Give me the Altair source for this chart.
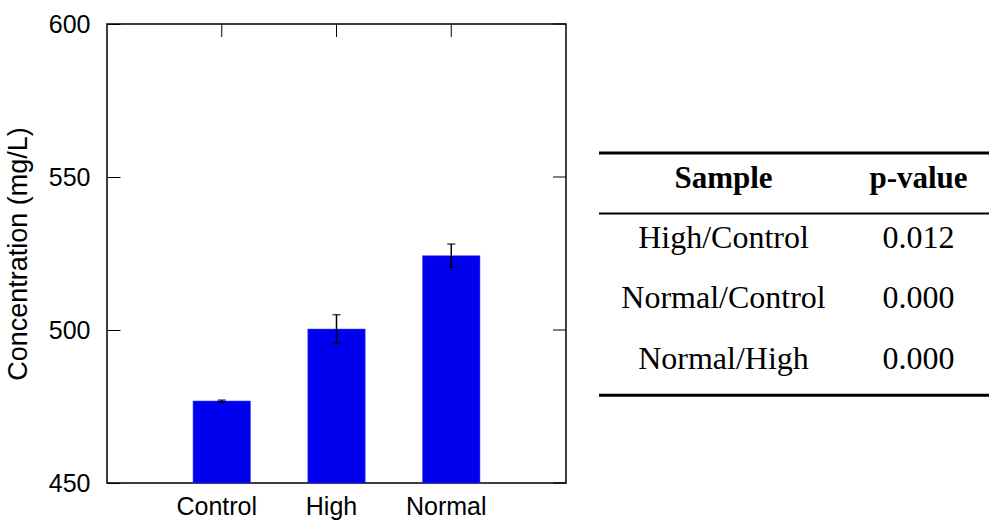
import altair as alt
import pandas as pd

categories = ["Control", "High", "Normal"]
means = [476.8, 500.3, 524.3]
errors = [0.3, 4.7, 3.8]
yticks = [450, 500, 550, 600]

pairs = ["High/Control", "Normal/Control", "Normal/High"]
pvalues = ["0.012", "0.000", "0.000"]
headers = ["Sample", "p-value"]

df = pd.DataFrame({"cat": categories, "mean": means, "err": errors})
df["lo"] = df["mean"] - df["err"]
df["hi"] = df["mean"] + df["err"]
tick_df = pd.DataFrame({"v": yticks})

W = 459
H = 459
TICK = 13
SANS = "Liberation Sans"
SERIF = "Liberation Serif"

yscale = alt.Scale(domain=[450, 600], nice=False, zero=False)
xscale = alt.Scale(paddingInner=0.5, paddingOuter=0.75)
X = alt.X("cat:N", scale=xscale, sort=categories)

base = alt.Chart(df)

bars = base.mark_bar(color="#0000ee", stroke="#3333ff", strokeWidth=0.5).encode(
    x=alt.X("cat:N", scale=xscale, sort=categories,
            axis=alt.Axis(title=None, ticks=False, domain=False, labelAngle=0,
                          labelFont=SANS, labelFontSize=25, labelColor="black",
                          labelPadding=11, labelOffset=-5)),
    y=alt.Y("mean:Q", scale=yscale,
            axis=alt.Axis(title="Concentration (mg/L)", values=yticks,
                          orient="left", domain=False, grid=False,
                          tickSize=TICK, offset=-TICK, tickColor="black", tickWidth=1,
                          labelFont=SANS, labelFontSize=25, labelColor="black",
                          labelPadding=17, titleFont=SANS, titleFontSize=27,
                          titleFontWeight="normal", titleColor="black", titlePadding=16)),
    y2=alt.datum(450),
)

errbars = base.mark_rule(color="black", strokeWidth=1.5).encode(x=X, y="lo:Q", y2="hi:Q")
caps_lo = base.mark_tick(color="black", thickness=1.5, size=8, orient="horizontal").encode(x=X, y="lo:Q")
caps_hi = base.mark_tick(color="black", thickness=1.5, size=8, orient="horizontal").encode(x=X, y="hi:Q")

# inward ticks on the right edge and the top edge
right_ticks = alt.Chart(tick_df).mark_rule(color="black", strokeWidth=1).encode(
    x=alt.value(W - TICK), x2=alt.value(W),
    y=alt.Y("v:Q", scale=yscale),
)
top_ticks = base.mark_rule(color="black", strokeWidth=1).encode(
    x=X, y=alt.value(0), y2=alt.value(TICK),
)

left = alt.layer(bars, errbars, caps_lo, caps_hi, right_ticks, top_ticks).properties(
    width=W, height=H, view=alt.ViewBackground(stroke="black", strokeWidth=1.5)
)

# table
rows_df = pd.DataFrame({
    "row": [1.5, 2.5, 3.5] * 2,
    "col": ["Sample"] * 3 + ["p-value"] * 3,
    "txt": pairs + pvalues,
})
head_df = pd.DataFrame({"row": [0.5, 0.5], "col": headers, "txt": headers})
lines_df = pd.DataFrame({"row": [0, 1, 4], "w": [3, 2, 3]})

TW = 390
tyscale = alt.Scale(domain=[-2.13, 5.45], reverse=True, nice=False, zero=False)
txscale = alt.Scale(domain=headers, paddingInner=0, paddingOuter=0)

cells = alt.Chart(rows_df).mark_text(font=SERIF, fontSize=32, color="black",
                                     baseline="middle", dx=27, dy=-6).encode(
    x=alt.X("col:N", scale=txscale, axis=None),
    y=alt.Y("row:Q", scale=tyscale, axis=None),
    text="txt:N",
)
heads = alt.Chart(head_df).mark_text(font=SERIF, fontSize=31, fontWeight="bold", color="black",
                                     baseline="middle", dx=27, dy=-4).encode(
    x=alt.X("col:N", scale=txscale, axis=None),
    y=alt.Y("row:Q", scale=tyscale, axis=None),
    text="txt:N",
)
lines = alt.Chart(lines_df).mark_rule(color="black").encode(
    x=alt.value(0), x2=alt.value(TW),
    y=alt.Y("row:Q", scale=tyscale, axis=None),
    strokeWidth=alt.StrokeWidth("w:Q", scale=None, legend=None),
)
table = alt.layer(lines, heads, cells).properties(
    width=TW, height=H, view=alt.ViewBackground(stroke=None)
)

chart = alt.hconcat(left, table, spacing=29).configure(
    background="white", padding={"left": 3, "top": 11, "right": 0, "bottom": 0}
)

chart.save("out.html", embed_options={"renderer": "svg", "actions": False})
